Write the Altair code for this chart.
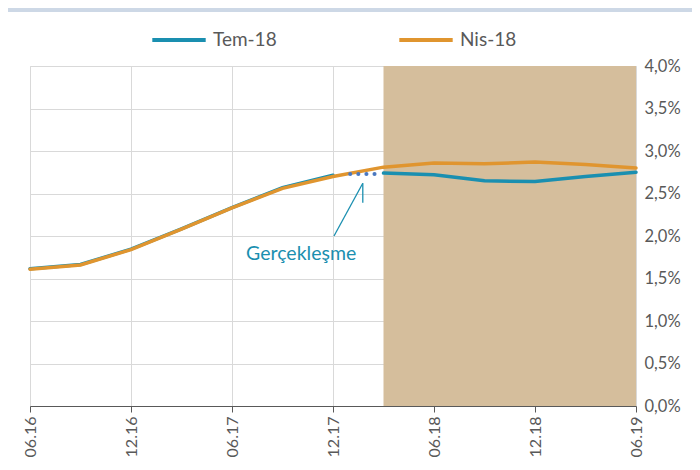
import altair as alt
import pandas as pd

quarters = ["06.16", "09.16", "12.16", "03.17", "06.17", "09.17", "12.17",
            "03.18", "06.18", "09.18", "12.18", "03.19", "06.19"]
tem18 = [1.615, 1.665, 1.845, 2.085, 2.335, 2.57, 2.715, 2.74, 2.72, 2.65, 2.64, 2.70, 2.75]
nis18 = [1.61, 1.66, 1.84, 2.08, 2.33, 2.56, 2.70, 2.81, 2.86, 2.85, 2.87, 2.84, 2.80]
realised_x = [6.34, 6.87]
realised_v = [2.73, 2.73]
forecast_start = 7
tick_idx = [0, 2, 4, 6, 8, 10, 12]

TEAL = "#1a8fb0"
ORANGE = "#e0952f"
TAN = "#d5be9c"
GREY = "#595959"
FONT = "Lato"

rows = []
for i, q in enumerate(quarters):
    if i <= 6:
        rows.append({"i": i, "v": tem18[i], "s": "Tem-18", "seg": "a"})
    if i >= forecast_start:
        rows.append({"i": i, "v": tem18[i], "s": "Tem-18", "seg": "b"})
    rows.append({"i": i, "v": nis18[i], "s": "Nis-18", "seg": "c"})
df = pd.DataFrame(rows)

dot_df = pd.DataFrame({"i": realised_x, "v": realised_v})

label_map = "{" + ",".join(f"'{i}':'{quarters[i]}'" for i in tick_idx) + "}"

xscale = alt.Scale(domain=[0, 12], nice=False, zero=False)
yscale = alt.Scale(domain=[0, 4], nice=False)

shade = alt.Chart(pd.DataFrame({"a": [forecast_start], "b": [12], "y0": [0], "y1": [4]})).mark_rect(
    color=TAN, opacity=1
).encode(
    x=alt.X("a:Q", scale=xscale,
            axis=alt.Axis(values=tick_idx, labelExpr=f"{label_map}[datum.value]",
                          labelAngle=-90, labelAlign="right", labelBaseline="middle",
                          labelFontSize=16, labelColor=GREY, labelFont=FONT,
                          domainColor=GREY, tickColor=GREY, tickSize=6, labelPadding=4,
                          gridColor="#d9d9d9", grid=True, title=None)),
    x2="b:Q",
    y=alt.Y("y0:Q", scale=yscale,
            axis=alt.Axis(orient="right", values=[0, 0.5, 1, 1.5, 2, 2.5, 3, 3.5, 4],
                          labelExpr="replace(format(datum.value,'.1f'),'.',',')+'%'",
                          labelFontSize=16.5, labelColor=GREY, labelFont=FONT,
                          domain=False, ticks=False, labelPadding=8,
                          gridColor="#d9d9d9", grid=True, title=None)),
    y2="y1:Q",
)

lines = alt.Chart(df).mark_line(strokeWidth=3.5, strokeCap="round").encode(
    x=alt.X("i:Q", scale=xscale),
    y=alt.Y("v:Q", scale=yscale),
    color=alt.Color("s:N", scale=alt.Scale(domain=["Tem-18", "Nis-18"], range=[TEAL, ORANGE]),
                    legend=alt.Legend(orient="none", legendX=120, legendY=-55, direction="horizontal",
                                      title=None, symbolType="stroke", symbolSize=2850,
                                      symbolStrokeWidth=4, labelFontSize=19, labelColor=GREY,
                                      labelFont=FONT, columnPadding=114, labelOffset=5)),
    detail="seg:N",
    order=alt.Order("i:Q"),
)

dots = alt.Chart(dot_df).mark_line(strokeWidth=4, strokeDash=[0.1, 8], strokeCap="round",
                                   color="#4a78c0").encode(
    x=alt.X("i:Q", scale=xscale), y=alt.Y("v:Q", scale=yscale)
)

arrow_df = pd.DataFrame({"x": [6.02, 6.59], "y": [2.0, 2.39], "x2": [6.59, 6.59], "y2": [2.62, 2.62]})
arrow = alt.Chart(arrow_df).mark_rule(color=TEAL, strokeWidth=1.3).encode(
    x=alt.X("x:Q", scale=xscale), y=alt.Y("y:Q", scale=yscale), x2="x2:Q", y2="y2:Q"
)

note = alt.Chart(pd.DataFrame({"x": [5.37], "y": [1.79], "t": ["Gerçekleşme"]})).mark_text(
    color=TEAL, fontSize=19.5, font=FONT
).encode(x=alt.X("x:Q", scale=xscale), y=alt.Y("y:Q", scale=yscale), text="t:N")

topbar = alt.Chart(pd.DataFrame({"k": [1]})).mark_rect(color="#cdd8e6").encode(
    x=alt.value(-26), x2=alt.value(670), y=alt.value(-58), y2=alt.value(-54)
)

chart = alt.layer(shade, lines, dots, arrow, note, topbar).properties(
    width=606, height=340,
    autosize=alt.AutoSizeParams(type="none"),
    padding={"left": 22, "top": 58, "right": 56, "bottom": 56},
).configure_view(stroke=None).configure(background="white")

chart.save("out.html", embed_options={"renderer": "svg", "actions": False})
